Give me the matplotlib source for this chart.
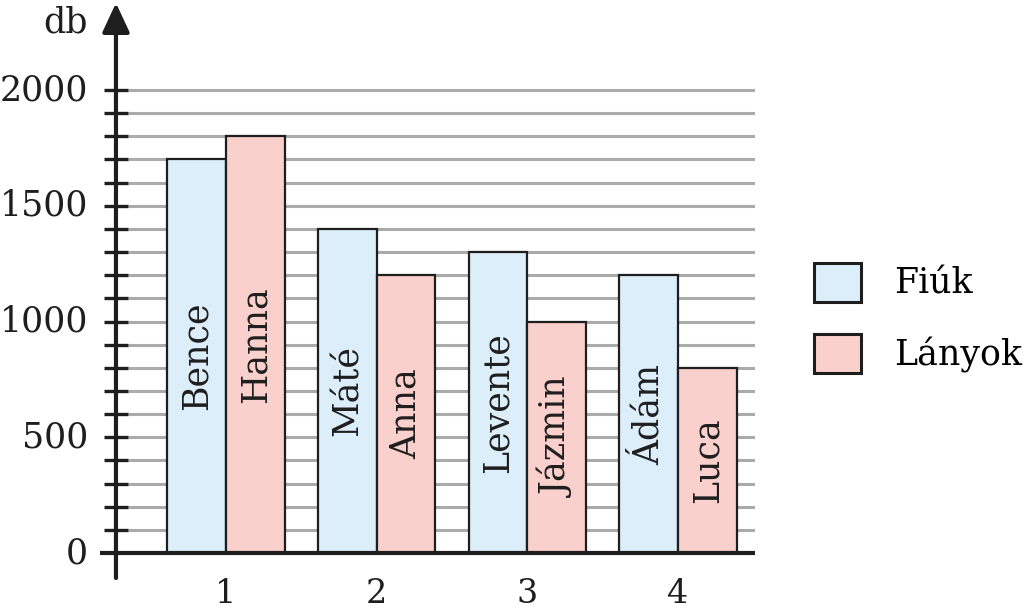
import matplotlib.pyplot as plt
import numpy as np
from matplotlib.patches import Patch

plt.rcParams['font.family'] = ['DejaVu Serif']

groups = [1, 2, 3, 4]
boys = ['Bence', 'Máté', 'Levente', 'Ádám']
girls = ['Hanna', 'Anna', 'Jázmin', 'Luca']
boys_counts = [1700, 1400, 1300, 1200]
girls_counts = [1800, 1200, 1000, 800]
y_ticks = [0, 500, 1000, 1500, 2000]
grid_levels = list(range(100, 2001, 100))

blue = '#dbeef9'
pink = '#f9d0cb'
dark = '#1e1e1e'

fig = plt.figure(figsize=(10.24, 6.08), dpi=100)
ax = fig.add_axes([100 / 1024, 30 / 608, 655 / 1024, 575 / 608])
x_min, x_max = 0.164, 4.511
y_min, y_max = -108, 2376
x_axis = 0.27
ax.set_xlim(x_min, x_max)
ax.set_ylim(y_min, y_max)
for s in ax.spines.values():
    s.set_visible(False)

x = np.array(groups)
w = 0.39

# grid behind bars
ax.hlines(grid_levels, x_axis + 0.08, x_max, color='#aaaaaa', lw=2.2, zorder=1)

ax.bar(x - w / 2, boys_counts, w, color=blue, edgecolor=dark, lw=1.6, zorder=2)
ax.bar(x + w / 2, girls_counts, w, color=pink, edgecolor=dark, lw=1.6, zorder=2)

for xi, v, name in zip(x - w / 2, boys_counts, boys):
    ax.text(xi, v / 2, name, rotation=90, ha='center', va='center',
            fontsize=25, color=dark, zorder=3)
for xi, v, name in zip(x + w / 2, girls_counts, girls):
    ax.text(xi, v / 2, name, rotation=90, ha='center', va='center',
            fontsize=25, color=dark, zorder=3)

# axes lines
ax.plot([x_min, x_max], [0, 0], color=dark, lw=3, zorder=4, clip_on=False,
        solid_capstyle='butt')
ax.annotate('', xy=(x_axis, y_max), xytext=(x_axis, y_min),
            arrowprops=dict(arrowstyle='-|>,head_length=0.6,head_width=0.28',
                            mutation_scale=30, color=dark, lw=3,
                            shrinkA=0, shrinkB=0), zorder=4)

# y ticks (in-out) and labels
ax.hlines(grid_levels, x_axis - 0.08, x_axis + 0.08, color=dark, lw=2.4, zorder=4)
for v in y_ticks:
    ax.annotate(str(v), xy=(x_axis, v), xytext=(-20, 0), textcoords='offset points',
                ha='right', va='center', fontsize=25, color=dark)
ax.annotate('db', xy=(x_axis, 2290), xytext=(-20, 0), textcoords='offset points',
            ha='right', va='center', fontsize=25, color=dark)

ax.set_xticks([])
ax.set_yticks([])
for g in groups:
    ax.annotate(str(g), xy=(g, 0), xytext=(0, -18), textcoords='offset points',
                ha='center', va='top', fontsize=24, color=dark, annotation_clip=False)

handles = [Patch(facecolor=blue, edgecolor=dark, lw=2.2),
           Patch(facecolor=pink, edgecolor=dark, lw=2.2)]
fig.legend(handles, ['Fiúk', 'Lányok'], loc='center left',
           bbox_to_anchor=(814 / 1024, 1 - 318 / 608), frameon=False,
           fontsize=25, handlelength=1.35, handleheight=1.35,
           labelspacing=0.95, handletextpad=0.95, borderpad=0, borderaxespad=0)

fig.savefig('out.png', dpi=100)
